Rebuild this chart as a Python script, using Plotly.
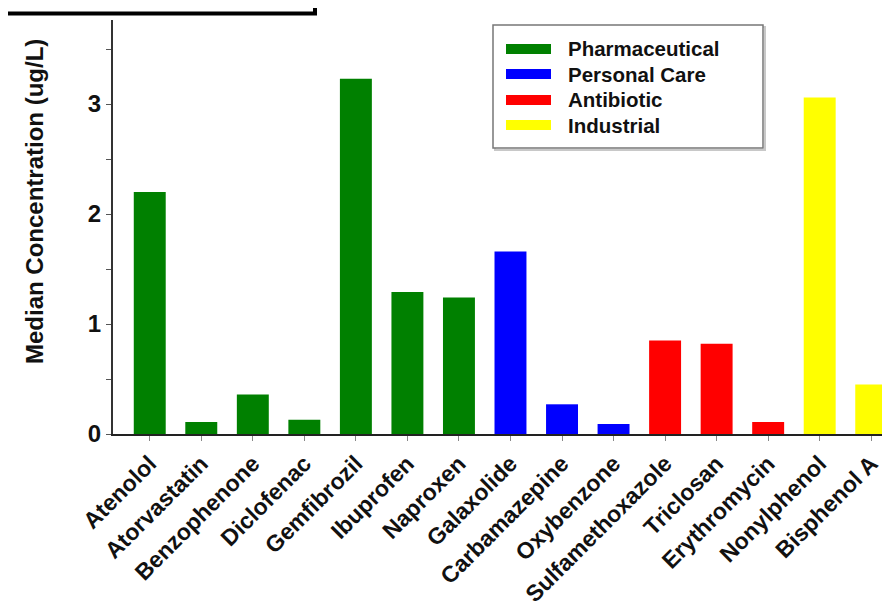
import plotly.graph_objects as go

compounds = ["Atenolol", "Atorvastatin", "Benzophenone", "Diclofenac", "Gemfibrozil",
             "Ibuprofen", "Naproxen", "Galaxolide", "Carbamazepine", "Oxybenzone",
             "Sulfamethoxazole", "Triclosan", "Erythromycin", "Nonylphenol", "Bisphenol A"]
median_conc = [2.20, 0.11, 0.36, 0.13, 3.23, 1.29, 1.24, 1.66, 0.27, 0.09,
               0.85, 0.82, 0.11, 3.06, 0.45]
groups = ["Pharmaceutical"] * 7 + ["Personal Care"] * 3 + ["Antibiotic"] * 3 + ["Industrial"] * 2
group_names = ["Pharmaceutical", "Personal Care", "Antibiotic", "Industrial"]
group_colors = ["#008000", "#0000FF", "#FF0000", "#FFFF00"]
y_ticks = [0, 1, 2, 3]

color_map = dict(zip(group_names, group_colors))

W, H = 890, 613
ML, MR, MT, MB = 105, 1, 12, 187
PW, PH = W - ML - MR, H - MT - MB
Y0 = MT + PH


def px_x(x):
    return (x - ML) / PW


def px_y(y):
    return (Y0 - y) / PH


FONT = "Liberation Sans, Arial, Helvetica, sans-serif"

fig = go.Figure()
fig.add_trace(go.Bar(
    x=list(range(len(compounds))),
    y=median_conc,
    marker=dict(color=[color_map[g] for g in groups], line=dict(width=0)),
    width=0.62,
    showlegend=False,
))

shapes = []
annotations = []

# legend box
shapes.append(dict(type="rect", xref="paper", yref="paper",
                   x0=px_x(487), x1=px_x(757), y0=px_y(142), y1=px_y(19),
                   line=dict(color="#c8c8c8", width=2), fillcolor="rgba(0,0,0,0)", layer="above"))
shapes.append(dict(type="rect", xref="paper", yref="paper",
                   x0=px_x(485), x1=px_x(755), y0=px_y(140), y1=px_y(17),
                   line=dict(color="#777777", width=1.5), fillcolor="white", layer="above"))
row_y = [41, 66, 92, 117]
for name, col, ry in zip(group_names, group_colors, row_y):
    shapes.append(dict(type="rect", xref="paper", yref="paper",
                       x0=px_x(498), x1=px_x(543), y0=px_y(ry + 5), y1=px_y(ry - 5),
                       line=dict(width=0), fillcolor=col, layer="above"))
    annotations.append(dict(text=name, xref="paper", yref="paper",
                            x=px_x(558), y=px_y(ry), xanchor="left", yanchor="middle",
                            showarrow=False,
                            font=dict(family=FONT, size=20.5, color="#111111", weight="bold")))

# partial frame at top-left
shapes.append(dict(type="rect", xref="paper", yref="paper",
                   x0=px_x(-20), x1=px_x(307), y0=px_y(5.5), y1=px_y(-20),
                   line=dict(color="black", width=4), fillcolor="rgba(0,0,0,0)"))

# y-axis title
annotations.append(dict(text="Median Concentration (ug/L)", xref="paper", yref="paper",
                        x=px_x(27), y=px_y(194), xanchor="center", yanchor="middle",
                        textangle=-90, showarrow=False,
                        font=dict(family=FONT, size=24, color="#111111", weight="bold")))

fig.update_layout(
    width=W, height=H,
    margin=dict(l=ML, r=MR, t=MT, b=MB, pad=0),
    paper_bgcolor="white", plot_bgcolor="white",
    shapes=shapes, annotations=annotations,
    font=dict(family=FONT, color="#111111"),
)
fig.update_xaxes(
    range=[-0.713, 14.5],
    tickmode="array", tickvals=list(range(len(compounds))), ticktext=compounds,
    tickangle=-45,
    tickfont=dict(family=FONT, size=23, color="#111111", weight="bold"),
    ticks="outside", ticklen=5, tickcolor="#888888", tickwidth=1,
    showline=True, linecolor="#222222", linewidth=2,
    showgrid=False, zeroline=False,
)
fig.update_yaxes(
    range=[0, PH / 110.0],
    tickmode="array", tickvals=y_ticks,
    tickfont=dict(family=FONT, size=24, color="#111111", weight="bold"),
    ticksuffix="\u2005",
    ticks="outside", ticklen=5, tickcolor="#555555", tickwidth=1,
    minor=dict(tickmode="linear", tick0=0, dtick=0.5, ticks="outside", ticklen=5, tickcolor="#555555"),
    showline=True, linecolor="#333333", linewidth=2,
    showgrid=False, zeroline=False,
)

fig.write_html("out.html")
